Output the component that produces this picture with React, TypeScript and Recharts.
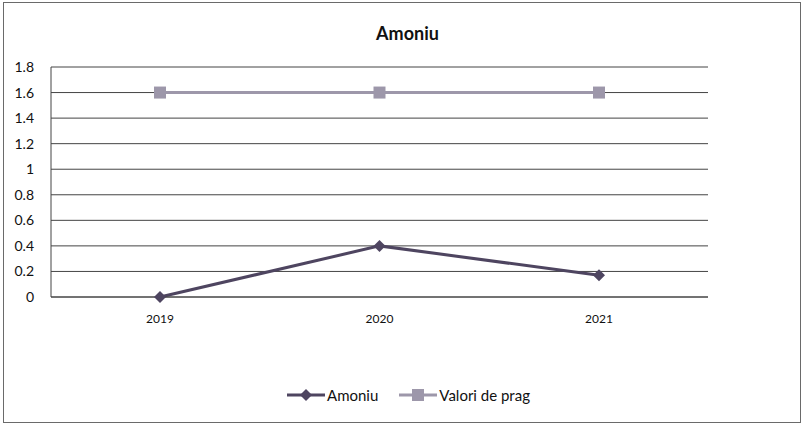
import { CartesianGrid, Legend, Line, LineChart, XAxis, YAxis } from "recharts";

const years = ["2019", "2020", "2021"];
const amoniu = [0, 0.4, 0.17];
const valoriDePrag = [1.6, 1.6, 1.6];
const yTicks = [0, 0.2, 0.4, 0.6, 0.8, 1, 1.2, 1.4, 1.6, 1.8];

const data = years.map((year, i) => ({
  year,
  amoniu: amoniu[i],
  prag: valoriDePrag[i],
}));

const AMONIU_COLOR = "#4e4560";
const PRAG_COLOR = "#9d97aa";
const FONT = "Lato, 'Open Sans', sans-serif";

const Diamond = (props: any) => {
  const { cx, cy, fill } = props;
  if (cx == null || cy == null) return null;
  const r = 6;
  return (
    <path
      d={`M${cx},${cy - r} L${cx + r},${cy} L${cx},${cy + r} L${cx - r},${cy} Z`}
      fill={fill}
    />
  );
};

const Square = (props: any) => {
  const { cx, cy, fill } = props;
  if (cx == null || cy == null) return null;
  const s = 12;
  return <rect x={cx - s / 2} y={cy - s / 2} width={s} height={s} fill={fill} />;
};

function LegendContent() {
  const items = [
    { label: "Amoniu", color: AMONIU_COLOR, shape: "diamond" },
    { label: "Valori de prag", color: PRAG_COLOR, shape: "square" },
  ];
  return (
    <div style={{ display: "flex", justifyContent: "center", gap: 21, fontFamily: FONT, fontSize: 15, color: "#111" }}>
      {items.map((it) => (
        <div key={it.label} style={{ display: "flex", alignItems: "center", gap: 2 }}>
          <svg width={38} height={14}>
            <line x1={0} y1={7} x2={38} y2={7} stroke={it.color} strokeWidth={3} />
            {it.shape === "diamond" ? (
              <path d="M19,1 L25,7 L19,13 L13,7 Z" fill={it.color} />
            ) : (
              <rect x={13} y={1} width={12} height={12} fill={it.color} />
            )}
          </svg>
          <span>{it.label}</span>
        </div>
      ))}
    </div>
  );
}

export default function App() {
  return (
    <div style={{ position: "absolute", left: 0, top: 0, width: 801, height: 424, background: "#fff" }}>
      <div
        style={{
          position: "absolute",
          left: 3,
          top: 2,
          width: 796,
          height: 419,
          border: "1px solid #6a6a6a",
        }}
      />
      <div
        style={{
          position: "absolute",
          left: 0,
          width: 801,
          top: 22,
          textAlign: "center",
          paddingLeft: 14,
          boxSizing: "border-box",
          fontFamily: FONT,
          fontWeight: 700,
          fontSize: 18,
          color: "#111",
        }}
      >
        Amoniu
      </div>
      <LineChart
        width={801}
        height={424}
        data={data}
        margin={{ top: 67, right: 93, bottom: 0, left: 0 }}
        style={{ position: "absolute", left: 0, top: 0 }}
      >
        <CartesianGrid vertical={false} stroke="#444" strokeWidth={1} />
        <XAxis
          dataKey="year"
          axisLine={{ stroke: "#444" }}
          tickLine={false}
          tickSize={0}
          tickMargin={17}
          height={109}
          padding={{ left: 109, right: 109 }}
          tick={{ fill: "#111", fontSize: 12, fontFamily: FONT }}
        />
        <YAxis
          domain={[0, 1.8]}
          ticks={yTicks}
          width={51}
          axisLine={{ stroke: "#444" }}
          tickLine={false}
          tickSize={0}
          tickMargin={17}
          tick={{ fill: "#111", fontSize: 14, fontFamily: FONT }}
        />
        <Legend
          verticalAlign="bottom"
          content={<LegendContent />}
          wrapperStyle={{ top: 386, left: 8, width: 801 }}
        />
        <Line
          dataKey="amoniu"
          name="Amoniu"
          stroke={AMONIU_COLOR}
          fill={AMONIU_COLOR}
          strokeWidth={3}
          dot={<Diamond fill={AMONIU_COLOR} />}
          isAnimationActive={false}
        />
        <Line
          dataKey="prag"
          name="Valori de prag"
          stroke={PRAG_COLOR}
          fill={PRAG_COLOR}
          strokeWidth={3}
          dot={<Square fill={PRAG_COLOR} />}
          isAnimationActive={false}
        />
      </LineChart>
    </div>
  );
}
